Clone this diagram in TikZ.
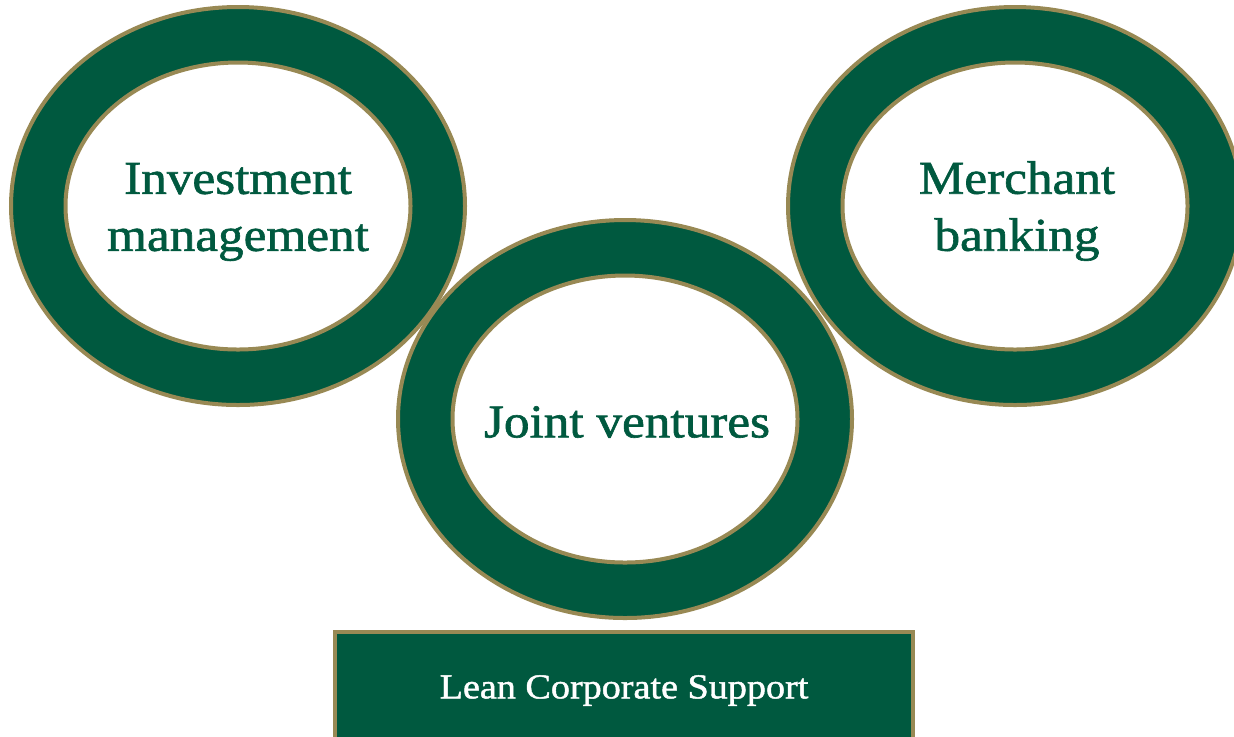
\documentclass[tikz,border=0pt]{standalone}
\usepackage{fontspec}
\setmainfont{Liberation Serif}
\newfontfamily\labelfont{Liberation Serif}[FakeStretch=1.09, FakeBold=1.3]
\usetikzlibrary{shapes.geometric}
\definecolor{brandgreen}{RGB}{0,89,63}
\definecolor{brandgold}{RGB}{152,137,84}
\tikzset{
  ringout/.style={ellipse, fill=brandgreen, draw=brandgold, line width=2pt,
    minimum width=227pt, minimum height=199pt, inner sep=0pt},
  ringin/.style={ellipse, fill=white, draw=brandgold, line width=2pt,
    minimum width=172.5pt, minimum height=143.5pt, inner sep=0pt},
  ringtext/.style={text=brandgreen, align=center, inner sep=0pt,
    font=\labelfont\fontsize{23.5}{28.5}\selectfont},
  basebox/.style={rectangle, fill=brandgreen, draw=brandgold, line width=2pt,
    minimum width=289pt, minimum height=56.5pt, inner sep=0pt,
    text=white, font=\labelfont\fontsize{17.5}{20}\selectfont}
}
\begin{document}
\begin{tikzpicture}[x=0.5pt,y=-0.5pt]
  \useasboundingbox (0,0) rectangle (1234,736);
  \clip (0,0) rectangle (1234,736);
  % left ring
  \node[ringout] (invout) at (238,206) {};
  \node[ringin]  (invin)  at (238,206) {};
  \node[ringtext] (inv)   at (238,212) {Investment\\management};
  % right ring
  \node[ringout] (merout) at (1015,206) {};
  \node[ringin]  (merin)  at (1015,206) {};
  \node[ringtext] (mer)   at (1017,211) {Merchant\\banking};
  % middle ring
  \node[ringout] (jvout) at (625,419) {};
  \node[ringin]  (jvin)  at (625,419) {};
  \node[ringtext] (jv)   at (627,422) {Joint ventures};
  % support bar
  \node[basebox] (lean) at (624,688.5) {};
  \node[text=white, inner sep=0pt, font=\labelfont\fontsize{17.5}{20}\selectfont]
    (leantext) at (624,690.5) {Lean Corporate Support};
\end{tikzpicture}
\end{document}
